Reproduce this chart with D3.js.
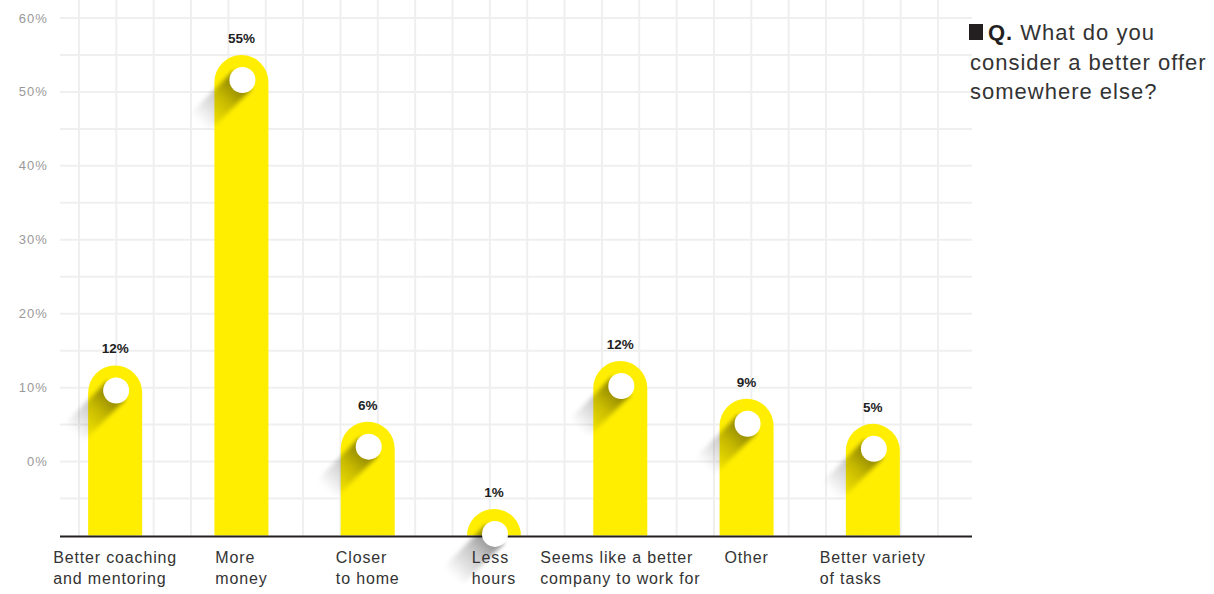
<!DOCTYPE html>
<html>
<head>
<meta charset="utf-8">
<script src="https://cdn.jsdelivr.net/npm/d3@7"></script>
<style>
  html, body { margin: 0; padding: 0; background: #ffffff; }
  svg { display: block; font-family: "Liberation Sans", Arial, Helvetica, sans-serif; }
</style>
</head>
<body>
<svg id="chart" width="1214" height="594"></svg>
<script>
// ---- data ----
const categories = [
  ["Better coaching", "and mentoring"],
  ["More", "money"],
  ["Closer", "to home"],
  ["Less", "hours"],
  ["Seems like a better", "company to work for"],
  ["Other"],
  ["Better variety", "of tasks"]
];
const valueLabels = ["12%", "55%", "6%", "1%", "12%", "9%", "5%"];
const barLevels = [13, 55, 5.4, -6.4, 13.6, 8.5, 5.1];
const yTicks = [0, 10, 20, 30, 40, 50, 60];
const titleLines = ["What do you", "consider a better offer", "somewhere else?"];

// ---- setup ----
const svg = d3.select("#chart");
const yellow = "#ffee00";

const y = d3.scaleLinear().domain([-10, 60]).range([535.5, 18]);
const x = d3.scalePoint().domain(d3.range(categories.length)).range([52, 936]).padding(0.5);

const gridLeft = 60, gridRight = 972;
const barW = 54, r = barW / 2;

const defs = svg.append("defs");
const grad = defs.append("linearGradient").attr("id", "shadowGrad")
  .attr("x1", 0).attr("y1", 0).attr("x2", 0).attr("y2", 1);
grad.append("stop").attr("offset", "0%").attr("stop-color", "#000").attr("stop-opacity", 0.5);
grad.append("stop").attr("offset", "45%").attr("stop-color", "#000").attr("stop-opacity", 0.22);
grad.append("stop").attr("offset", "100%").attr("stop-color", "#000").attr("stop-opacity", 0);
const blur = defs.append("filter").attr("id", "blur")
  .attr("x", "-50%").attr("y", "-50%").attr("width", "200%").attr("height", "200%");
blur.append("feGaussianBlur").attr("stdDeviation", 2);

// ---- grid ----
const grid = svg.append("g").attr("class", "grid");
const hLines = d3.range(-5, 61, 5);
grid.selectAll("line.h").data(hLines).join("line").attr("class", "h")
  .attr("x1", gridLeft).attr("x2", gridRight)
  .attr("y1", d => y(d)).attr("y2", d => y(d))
  .attr("stroke", "#efefef").attr("stroke-width", 2);
const vLines = d3.range(79, 940, 37.35);
grid.selectAll("line.v").data(vLines).join("line").attr("class", "v")
  .attr("x1", d => d).attr("x2", d => d)
  .attr("y1", 0).attr("y2", y(-10))
  .attr("stroke", "#efefef").attr("stroke-width", 2);

// ---- y tick labels ----
svg.append("g").selectAll("text").data(yTicks).join("text")
  .attr("x", 48).attr("y", d => y(d)).attr("dy", "0.35em")
  .attr("text-anchor", "end")
  .attr("font-size", 13).attr("letter-spacing", 1.1).attr("fill", "#999999")
  .text(d => d + "%");

// ---- bars ----
svg.append("g").selectAll("path").data(barLevels).join("path")
  .attr("fill", yellow)
  .attr("d", (d, i) => {
    const cx = x(i), x0 = cx - r, x1 = cx + r, top = y(d), bottom = y(-10);
    return `M${x0},${bottom}V${top + r}A${r},${r} 0 0 1 ${x1},${top + r}V${bottom}Z`;
  });

// axis line
svg.append("line")
  .attr("x1", gridLeft).attr("x2", gridRight)
  .attr("y1", y(-10) + 1).attr("y2", y(-10) + 1)
  .attr("stroke", "#231f20").attr("stroke-width", 2);

// shadows
const shadows = svg.append("g").selectAll("g").data(barLevels).join("g")
  .attr("transform", (d, i) => `translate(${x(i) + 1},${y(d) + 25}) rotate(45)`);
shadows.append("rect")
  .attr("x", -13).attr("y", 0).attr("width", 26).attr("height", 60)
  .attr("fill", "url(#shadowGrad)").attr("filter", "url(#blur)");

// circles
svg.append("g").selectAll("circle").data(barLevels).join("circle")
  .attr("cx", (d, i) => x(i) + 1).attr("cy", d => y(d) + 25)
  .attr("r", 13).attr("fill", "#ffffff");

// value labels
svg.append("g").selectAll("text").data(barLevels).join("text")
  .attr("x", (d, i) => x(i)).attr("y", d => y(d) - 12)
  .attr("text-anchor", "middle")
  .attr("font-size", 13.5).attr("font-weight", "bold").attr("fill", "#1e1e1e")
  .text((d, i) => valueLabels[i]);

// category labels (left-aligned lines, block centred under the bar)
const catG = svg.append("g").selectAll("text").data(categories).join("text")
  .attr("font-size", 16).attr("letter-spacing", 0.85).attr("fill", "#333333");
catG.each(function (lines, i) {
  const t = d3.select(this);
  lines.forEach((ln, k) => {
    t.append("tspan").attr("x", 0).attr("y", 563 + k * 21).text(ln);
  });
  const w = this.getBBox().width;
  t.attr("transform", `translate(${x(i) - w / 2},0)`);
});

// ---- title ----
const title = svg.append("g");
title.append("rect").attr("x", 969).attr("y", 24).attr("width", 14).attr("height", 16).attr("fill", "#231f20");
const tt = title.append("text").attr("font-size", 22).attr("letter-spacing", 1).attr("fill", "#333333");
const l1 = tt.append("tspan").attr("x", 988).attr("y", 40);
l1.append("tspan").attr("font-weight", "bold").attr("fill", "#231f20").text("Q.");
l1.append("tspan").text(" " + titleLines[0]);
tt.append("tspan").attr("x", 970).attr("y", 70).text(titleLines[1]);
tt.append("tspan").attr("x", 970).attr("y", 99).text(titleLines[2]);
</script>
</body>
</html>
